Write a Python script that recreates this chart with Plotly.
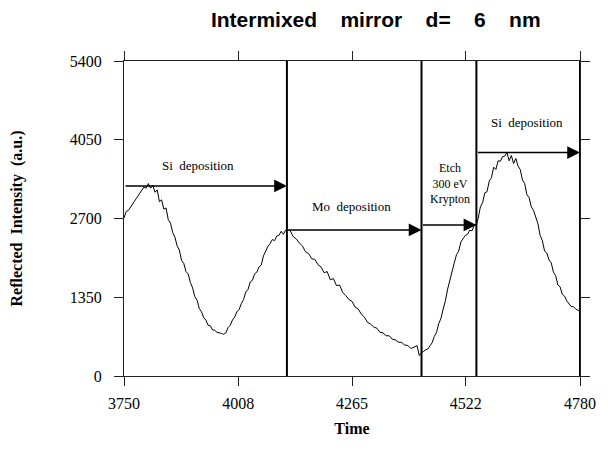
import plotly.graph_objects as go

# ---- data ----
t_si1 = [3750, 3755, 3760, 3765, 3770, 3775, 3780, 3785, 3790, 3795,
         3800, 3805, 3810, 3815, 3820, 3825, 3830, 3835, 3840, 3845,
         3850, 3855, 3860, 3865, 3870, 3875, 3880, 3885, 3890, 3895,
         3900, 3905, 3910, 3915, 3920, 3925, 3930, 3935, 3940, 3945,
         3950, 3955, 3960, 3965, 3970, 3975, 3980, 3985, 3990, 3995,
         4000, 4005, 4010, 4015, 4020, 4025, 4030, 4035, 4040, 4045,
         4050, 4055, 4060, 4065, 4070, 4075, 4080, 4085, 4090, 4095,
         4100, 4105, 4110, 4115]
v_si1 = [2710, 2820, 2840, 2900, 2940, 3010, 3060, 3140, 3190, 3240,
         3220, 3300, 3220, 3270, 3150, 3190, 2990, 3020, 2860, 2880,
         2680, 2620, 2460, 2380, 2230, 2160, 1980, 1930, 1790, 1750,
         1600, 1510, 1360, 1300, 1160, 1100, 1000, 960, 870, 860,
         790, 785, 750, 745, 730, 715, 740, 830, 870, 960,
         1010, 1100, 1140, 1240, 1310, 1440, 1480, 1610, 1640, 1750,
         1780, 1870, 1900, 2060, 2140, 2220, 2270, 2340, 2320, 2400,
         2410, 2480, 2430, 2500]

t_mo = [4118, 4125, 4132, 4139, 4146, 4153, 4160, 4167, 4174, 4181,
        4188, 4195, 4202, 4209, 4216, 4223, 4230, 4237, 4244, 4251,
        4258, 4265, 4272, 4279, 4286, 4293, 4300, 4307, 4314, 4321,
        4328, 4335, 4342, 4349, 4356, 4363, 4370, 4377, 4384, 4391,
        4398, 4405, 4412, 4417, 4422]
v_mo = [2490, 2500, 2390, 2350, 2280, 2230, 2130, 2100, 2010, 2000,
        1910, 1870, 1770, 1790, 1650, 1670, 1550, 1560, 1430, 1380,
        1310, 1280, 1180, 1150, 1060, 1010, 920, 890, 840, 820,
        750, 740, 690, 690, 630, 620, 580, 575, 530, 525,
        470, 490, 520, 350, 400]

t_etch = [4426, 4431, 4436, 4441, 4446, 4451, 4456, 4461, 4466, 4471,
          4476, 4481, 4486, 4491, 4496, 4501, 4506, 4511, 4516, 4521,
          4526, 4531, 4536, 4541, 4546]
v_etch = [417, 450, 460, 520, 570, 680, 750, 900, 990, 1150,
          1290, 1490, 1650, 1820, 1940, 2080, 2140, 2300, 2350, 2410,
          2430, 2500, 2490, 2580, 2600]

t_si2 = [4550, 4555, 4560, 4565, 4570, 4575, 4580, 4585, 4590, 4595,
         4600, 4605, 4610, 4615, 4620, 4625, 4630, 4635, 4640, 4645,
         4650, 4655, 4660, 4665, 4670, 4675, 4680, 4685, 4690, 4695,
         4700, 4705, 4710, 4715, 4720, 4725, 4730, 4735, 4740, 4745,
         4750, 4755, 4760, 4765, 4770, 4775, 4780]
v_si2 = [2700, 2900, 2970, 3140, 3160, 3340, 3400, 3580, 3540, 3690,
         3680, 3760, 3770, 3830, 3690, 3780, 3640, 3730, 3600, 3540,
         3360, 3300, 3110, 3060, 2900, 2840, 2710, 2610, 2410, 2320,
         2140, 2110, 1990, 1940, 1780, 1720, 1560, 1530, 1400, 1370,
         1290, 1240, 1190, 1190, 1150, 1130, 1100]

# phase boundaries (time) and arrow levels (intensity)
boundaries = [4118, 4422, 4546, 4780]
phase_start = [3750, 4118, 4422, 4546]
phase_end = [4118, 4422, 4546, 4780]
arrow_level = [3259, 2504, 2590, 3830]
phase_label = ["Si  deposition", "Mo  deposition", "Etch<br>300 eV<br>Krypton", "Si  deposition"]
label_pos_t = [3918, 4264, 4486, 4660]
label_pos_v = [3610, 2900, 3300, 4345]
label_size = [13, 13, 12, 13]

x_ticks = [3750, 4008, 4265, 4522, 4780]
y_ticks = [0, 1350, 2700, 4050, 5400]

times = t_si1 + t_mo + t_etch + t_si2
values = v_si1 + v_mo + v_etch + v_si2

serif = "Liberation Serif, Times New Roman, serif"

fig = go.Figure()
fig.add_trace(go.Scatter(x=times, y=values, mode="lines",
                         line=dict(color="black", width=1), showlegend=False,
                         hoverinfo="skip"))

for b in boundaries:
    fig.add_shape(type="line", xref="x", yref="y", x0=b, x1=b, y0=0, y1=5400,
                  line=dict(color="black", width=2))

for s, e, lv in zip(phase_start, phase_end, arrow_level):
    fig.add_annotation(x=e, y=lv, ax=s, ay=lv, xref="x", yref="y",
                       axref="x", ayref="y", text="", showarrow=True,
                       arrowhead=2, arrowsize=1.7, arrowwidth=1.5,
                       arrowcolor="black", standoff=0)

for lab, tx, vy, fs in zip(phase_label, label_pos_t, label_pos_v, label_size):
    fig.add_annotation(x=tx, y=vy, xref="x", yref="y", text=lab,
                       showarrow=False, font=dict(family=serif, size=fs, color="black"))

nb = "\u00a0"
title_txt = f"Intermixed{nb*4}mirror{nb*4}d={nb*4}6{nb*4}nm"

fig.update_layout(
    width=608, height=451,
    margin=dict(l=124, r=18, t=61, b=75),
    paper_bgcolor="white", plot_bgcolor="white",
    title=dict(text=f"<b>{title_txt}</b>", x=0.618, xanchor="center",
               y=0.956, yanchor="middle",
               font=dict(family="Liberation Sans, Arial, sans-serif", size=21, color="black")),
    xaxis=dict(range=[3750, 4780], tickvals=x_ticks, ticktext=[str(v) for v in x_ticks],
               showgrid=False, zeroline=False, showline=True, linecolor="#222",
               linewidth=1, mirror="ticks", ticks="outside", ticklen=9,
               tickcolor="#222", tickfont=dict(family=serif, size=16, color="black"),
               ticklabelstandoff=4,
               title=dict(text="<b>Time</b>", font=dict(family=serif, size=16, color="black"),
                          standoff=11)),
    yaxis=dict(range=[0, 5400], tickvals=y_ticks, ticktext=[str(v) for v in y_ticks],
               showgrid=False, zeroline=False, showline=True, linecolor="#222",
               linewidth=1, mirror="ticks", ticks="outside", ticklen=9,
               tickcolor="#222", tickfont=dict(family=serif, size=16, color="black"),
               ticklabelstandoff=9,
               title=dict(text=f"<b>Reflected{nb*2}Intensity{nb*2}(a.u.)</b>",
                          font=dict(family=serif, size=16, color="black"), standoff=43)),
)

fig.write_html("out.html")
